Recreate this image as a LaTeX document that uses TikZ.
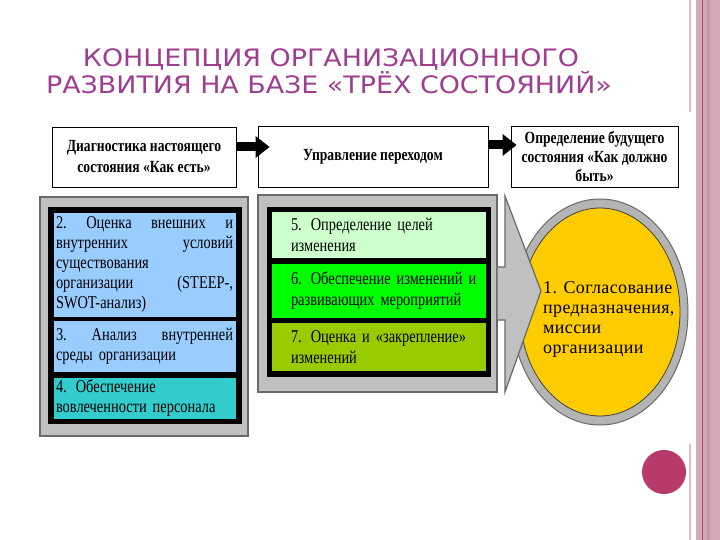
\documentclass[tikz,border=0pt]{standalone}
\usepackage{fontspec}
\setmainfont{Liberation Serif}
\newfontfamily\titlefont[FakeStretch=1.12]{DejaVu Sans}
\newfontfamily\bodyfont[FakeStretch=0.8]{Liberation Serif}
\newfontfamily\goalfont[LetterSpace=2]{Liberation Serif}
\newfontfamily\headfont[FakeStretch=0.8]{Liberation Serif}
\newcommand\tightsp[1]{\fontdimen2\font=#1\relax}
\usetikzlibrary{arrows.meta,shapes.geometric,calc}
\definecolor{titlec}{RGB}{158,62,145}
\definecolor{panelgray}{RGB}{192,192,192}
\definecolor{edgegray}{RGB}{105,105,105}
\definecolor{ringgray}{RGB}{180,180,180}
\definecolor{lblue}{RGB}{153,204,255}
\definecolor{tealc}{RGB}{51,204,204}
\definecolor{lgreen}{RGB}{204,255,204}
\definecolor{brightgreen}{RGB}{0,255,0}
\definecolor{olivec}{RGB}{153,204,0}
\definecolor{yellowc}{RGB}{255,204,0}
\definecolor{bandpink}{RGB}{212,169,182}
\definecolor{bandline}{RGB}{170,70,110}
\definecolor{banddark}{RGB}{200,150,168}
\definecolor{thinpink}{RGB}{222,190,202}
\definecolor{dotc}{RGB}{184,58,106}
\begin{document}
\begin{tikzpicture}[x=1pt,y=-1pt,
  panel/.style={draw=edgegray, line width=1.2pt, fill=panelgray},
  blackframe/.style={fill=black, draw=black, inner sep=0pt},
  headbox/.style={draw=black, line width=0.8pt, fill=white, align=center, inner sep=0pt,
    font=\headfont\bfseries\fontsize{17}{19}\selectfont\tightsp{3.4pt}},
  lbox/.style={draw=black, line width=0.6pt, align=left, text width=177pt,
    inner xsep=3pt, inner ysep=0pt, font=\bodyfont\fontsize{18}{20}\selectfont\tightsp{3.6pt}},
  mbox/.style={draw=black, line width=0.6pt, align=left, text width=205pt,
    inner xsep=5pt, inner ysep=0pt, font=\bodyfont\fontsize{18}{21}\selectfont\tightsp{3.6pt}},
  bigarrow/.style={line width=9pt, -{Triangle[length=14pt,width=21pt]}},
  titletext/.style={text=titlec, font=\titlefont\fontsize{24}{28}\selectfont, inner sep=0pt, anchor=base}
]
\useasboundingbox (0,0) rectangle (720,540);
\fill[white] (0,0) rectangle (720,540);

% right decoration band
\fill[bandpink] (696,0) rectangle (720,540);
\fill[banddark] (707,0) rectangle (710,540);
\fill[bandline] (701.5,0) rectangle (702.5,540);
\fill[thinpink] (689,0) rectangle (691,112);
\fill[thinpink] (689,444) rectangle (691,540);
\node[circle, fill=dotc, minimum size=44pt, inner sep=0pt] (dot) at (664,472) {};

% title
\node[titletext] (title1) at (331,67) {КОНЦЕПЦИЯ ОРГАНИЗАЦИОННОГО};
\node[titletext] (title2) at (329,94) {РАЗВИТИЯ НА БАЗЕ «ТРЁХ СОСТОЯНИЙ»};

% left panel
\node[panel, minimum width=208pt, minimum height=239pt, inner sep=0pt] (lpanel) at (144,316.5) {};
\node[blackframe, minimum width=193pt, minimum height=216pt] (lframe) at (144.5,315) {};
\node[lbox, fill=lblue, minimum height=105pt] (b2) at (144.5,264.5) {%
2.\hfill Оценка\hfill внешних\hfill и\\
внутренних\hfill условий\\
существования\\
организации\hfill (STEEP-,\\
SWOT-анализ)};
\node[lbox, fill=lblue, minimum height=52pt] (b3) at (144.5,346) {%
3.\hfill Анализ\hfill внутренней\\
среды организации};
\node[lbox, fill=tealc, minimum height=42pt] (b4) at (144.5,398) {%
4. Обеспечение\\
вовлеченности персонала};

% middle panel
\node[panel, minimum width=239pt, minimum height=197pt, inner sep=0pt] (mpanel) at (377.5,293.5) {};
\node[blackframe, minimum width=223pt, minimum height=169pt] (mframe) at (378.5,291.5) {};
\node[mbox, fill=lgreen, minimum height=47pt] (b5) at (378.5,234.5) {%
\hspace*{15pt}5. Определение целей\\
\hspace*{15pt}изменения};
\node[mbox, fill=brightgreen, minimum height=55pt] (b6) at (378.5,290.5) {%
\hspace*{15pt}6. Обеспечение изменений и\\
\hspace*{15pt}развивающих мероприятий};
\node[mbox, fill=olivec, minimum height=49pt] (b7) at (378.5,347) {%
\hspace*{15pt}7. Оценка и «закрепление»\\
\hspace*{15pt}изменений};

% goal ellipse
\node[ellipse, draw=edgegray, line width=1pt, fill=ringgray, minimum width=176pt, minimum height=226pt, inner sep=0pt] (goalring) at (600,312) {};
\node[ellipse, draw=black!75, line width=0.8pt, fill=yellowc, minimum width=160pt, minimum height=208pt, inner sep=0pt] (goal) at (600,312) {};

% big gray arrow from middle panel into ellipse
\filldraw[fill=panelgray, draw=edgegray, line width=1.2pt, line join=miter]
  (mpanel.east |- 0,267) -- (505,267) -- (505,196) -- (541,291) -- (505,392) -- (505,320) -- (mpanel.east |- 0,320);

\node[align=left, anchor=west, inner sep=0pt, font=\goalfont\fontsize{18}{20}\selectfont] (goaltext) at (543,319) {%
1. Согласование\\
предназначения,\\
миссии\\
организации};

% top boxes
\node[headbox, minimum width=184pt, minimum height=60pt] (A) at (144,157) {Диагностика настоящего\\[2pt] состояния «Как есть»};
\node[headbox, minimum width=230pt, minimum height=61pt] (B) at (373,156.5) {\raisebox{-3pt}{Управление переходом}};
\node[headbox, minimum width=167pt, minimum height=61pt] (C) at (594.5,156.5) {Определение будущего\\ состояния «Как должно\\ быть»};

\coordinate (ay1) at (0,147);
\coordinate (ay2) at (0,145);
\draw[bigarrow] (A.east |- ay1) -- ($(B.west |- ay1)+(12,0)$);
\draw[bigarrow] (B.east |- ay2) -- ($(C.west |- ay2)+(6,0)$);
\end{tikzpicture}
\end{document}
